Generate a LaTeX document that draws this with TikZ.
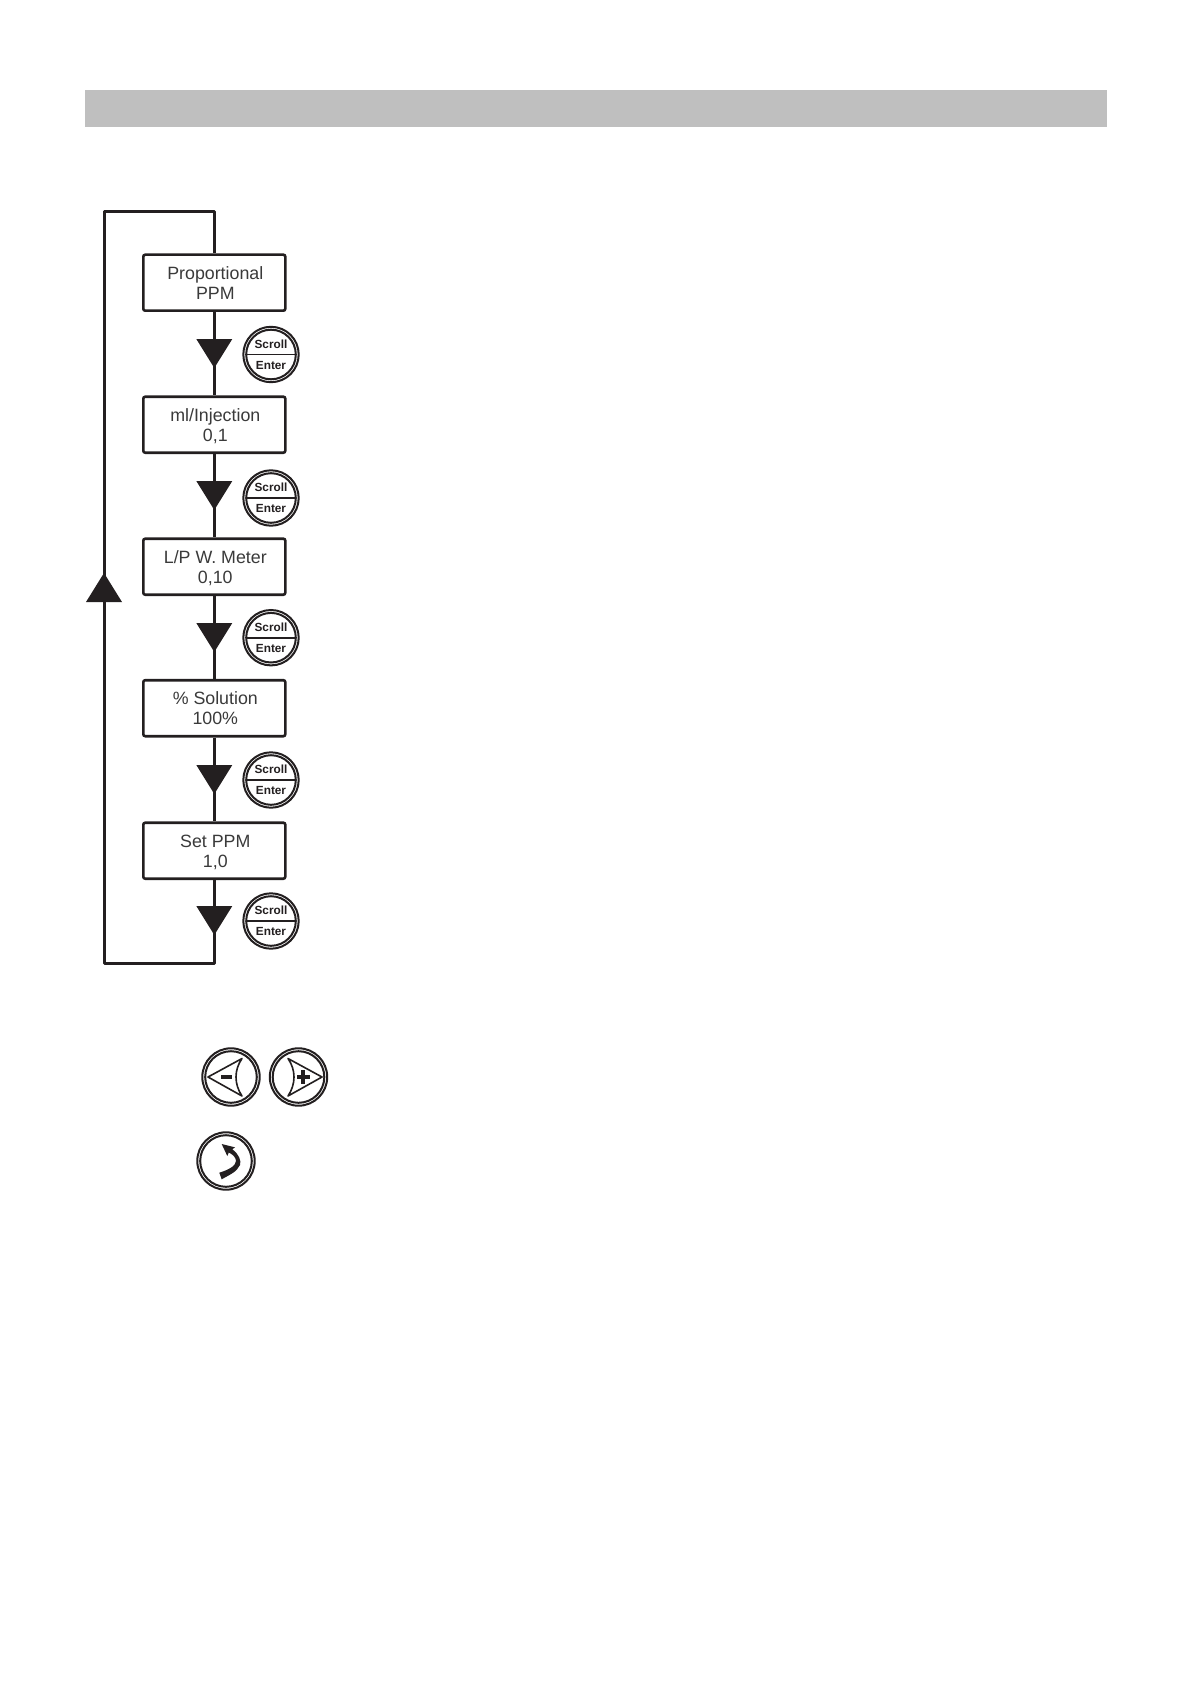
\documentclass[tikz,border=0pt]{standalone}
\usepackage{fontspec}
\setmainfont{Liberation Sans}
\definecolor{ink}{HTML}{231F20}
\definecolor{txt}{HTML}{3A3A3A}
\tikzset{
  flowbox/.style={draw=ink,line width=2.6pt,rounded corners=2pt,fill=white,minimum width=142pt,minimum height=56pt,inner sep=0pt,align=center,font=\fontsize{17.8}{20}\selectfont,text=txt},
  link/.style={draw=ink,line width=3pt},
  tipshape/.style={fill=ink,draw=none},
  ring/.style={draw=ink,fill=white},
  btnlabel/.style={font=\bfseries\fontsize{11.8}{14}\selectfont,text=ink,inner sep=0pt}
}
\newcommand{\two}[2]{\rule[-2.5pt]{0pt}{18.5pt}\hspace*{2pt}#1\\\rule[-2.5pt]{0pt}{18.5pt}\hspace*{2pt}#2}
\newcommand{\downtip}[2]{\fill[tipshape] (#1-18,#2) -- (#1+18,#2) -- (#1,#2+29) -- cycle;}
\newcommand{\rings}[3]{%
  \draw[ring,line width=2pt] (#1,#2) circle (#3);
  \draw[ring,line width=2pt] (#1,#2) circle ({#3-2.9});}
\newcommand{\scrollbtn}[3]{%
  \rings{#1}{#2}{27.7}
  \draw[ink,line width=1.6pt] (#1-24.5,#2) -- (#1+24.5,#2);
  \node[btnlabel] (s#3) at (#1,#2-10.5) {Scroll};
  \node[btnlabel] (e#3) at (#1,#2+10.5) {Enter};}
\begin{document}
\begin{tikzpicture}[x=1pt,y=-1pt]
\useasboundingbox (0,0) rectangle (1192,1685);
\fill[color={rgb,255:red,191;green,191;blue,191}] (85,90) rectangle (1107,127);
\coordinate (looptop) at (214.3,212);
\coordinate (loopleft) at (104,212);
\coordinate (loopbl) at (104,963);
\coordinate (loopbot) at (214.3,963);
\node[flowbox] (b1) at (214.3,282.7) {\two{Proportional}{PPM}};
\node[flowbox] (b2) at (214.3,424.7) {\two{ml/Injection}{0,1}};
\node[flowbox] (b3) at (214.3,566.7) {\two{L/P W. Meter}{0,10}};
\node[flowbox] (b4) at (214.3,708.2) {\two{\% Solution}{100\%}};
\node[flowbox] (b5) at (214.3,850.7) {\two{Set PPM}{1,0}};
\draw[link,line join=round] (b1.north) -- (looptop) -- (loopleft) -- (loopbl) -- (loopbot) -- (b5.south);
\draw[link] (b1) -- (b2);
\draw[link] (b2) -- (b3);
\draw[link] (b3) -- (b4);
\draw[link] (b4) -- (b5);
\downtip{214.3}{339}
\downtip{214.3}{481}
\downtip{214.3}{623}
\downtip{214.3}{765}
\downtip{214.3}{906}
\fill[tipshape] (86,602) -- (122,602) -- (104,573) -- cycle;
\scrollbtn{271}{354.5}{1}
\scrollbtn{271}{498}{2}
\scrollbtn{271}{637.7}{3}
\scrollbtn{271}{780}{4}
\scrollbtn{271}{921}{5}
% minus / plus
\rings{231}{1077}{28.7}
\draw[ink,line width=1.6pt,line join=round] (208,1077) -- (242,1058.5) .. controls (234,1070) and (234,1084) .. (242,1096) -- cycle;
\fill[ink] (220.5,1075.3) rectangle (231.5,1079);
\rings{298.5}{1077}{28.7}
\draw[ink,line width=1.6pt,line join=round] (322,1077) -- (288,1058.5) .. controls (296,1070) and (296,1084) .. (288,1096) -- cycle;
\fill[ink] (296.5,1075) rectangle (310,1079);
\fill[ink] (301.2,1070) rectangle (305.2,1084);
% enter
\rings{226}{1161}{28.7}
\fill[ink] (221.7,1144) -- (235,1147.3) -- (232.3,1149.3)
  .. controls (239,1154) and (241.5,1161) .. (240,1165)
  .. controls (237,1172) and (229,1175) .. (221.7,1179.3)
  -- (219.3,1172.7)
  .. controls (228,1170) and (236,1166) .. (236,1161)
  .. controls (236,1157) and (232,1154) .. (228.8,1152.5)
  -- (227.3,1156) -- cycle;
\end{tikzpicture}
\end{document}
